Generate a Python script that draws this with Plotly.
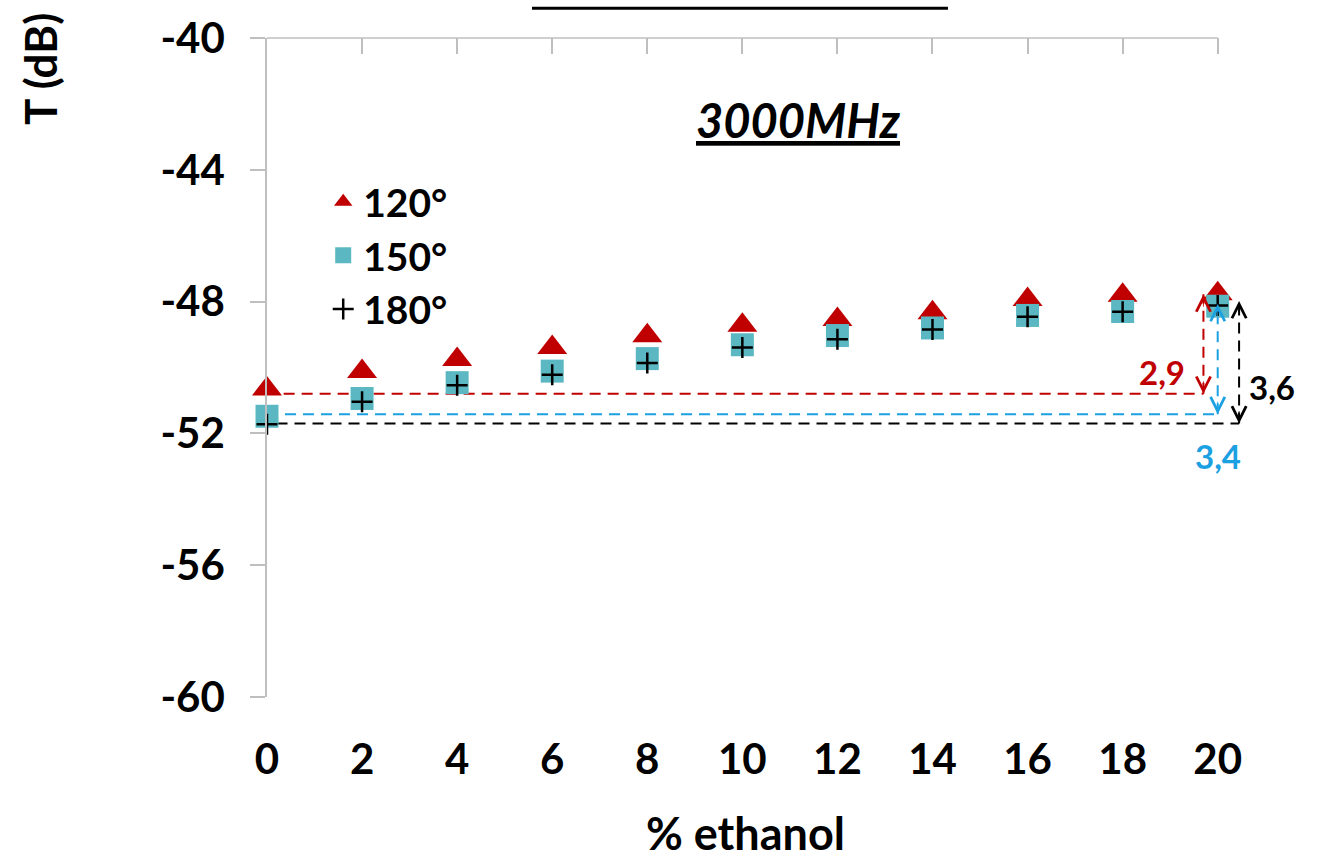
import plotly.graph_objects as go

# ---------------- data ----------------
x_pct = [0, 2, 4, 6, 8, 10, 12, 14, 16, 18, 20]
t120 = [-50.65, -50.12, -49.76, -49.39, -49.04, -48.72, -48.54, -48.34, -47.94, -47.81, -47.76]
t150 = [-51.48, -50.94, -50.46, -50.11, -49.73, -49.31, -49.03, -48.80, -48.42, -48.30, -48.14]
t180 = [-51.72, -51.04, -50.54, -50.22, -49.86, -49.39, -49.14, -48.85, -48.46, -48.31, -48.12]
series_names = ["120°", "150°", "180°"]

y_ticks = [-60, -56, -52, -48, -44, -40]
y_tick_text = ["-60", "-56", "-52", "-48", "-44", "-40"]

# difference annotations (start level, end level, x of arrow, label)
diff_labels = ["2,9", "3,4", "3,6"]
diff_low = [-50.8, -51.42, -51.7]
diff_high = [-47.78, -48.07, -47.98]
diff_x = [19.7, 20.0, 20.45]
diff_start_x = [0.35, 0.0, 0.2]
diff_label_x = [18.82, 20.0, 21.15]
diff_label_y = [-50.14, -52.7, -50.6]

RED = "#C00000"
TEAL = "#5BB8C2"
BLUE = "#1BA1E2"
BLACK = "#000000"
GRAY = "#BFBFBF"
diff_colors = [RED, BLUE, BLACK]

FONT = "Lato"
FS = 41

fig = go.Figure()

# dashed reference lines and vertical arrows
for i in range(3):
    fig.add_trace(go.Scatter(
        x=[diff_start_x[i], diff_x[i], None, diff_x[i], diff_x[i]],
        y=[diff_low[i], diff_low[i], None, diff_low[i], diff_high[i]],
        mode="lines",
        line=dict(color=diff_colors[i], width=2, dash="11px,7px"),
        showlegend=False, hoverinfo="skip",
    ))

fig.add_trace(go.Scatter(
    x=x_pct, y=t120, mode="markers", name=series_names[0],
    marker=dict(symbol="triangle-up", size=26, color=RED),
    cliponaxis=False,
))
fig.add_trace(go.Scatter(
    x=x_pct, y=t150, mode="markers", name=series_names[1],
    marker=dict(symbol="square", size=23, color=TEAL),
    cliponaxis=False,
))
fig.add_trace(go.Scatter(
    x=x_pct, y=t180, mode="markers", name=series_names[2],
    marker=dict(symbol="cross-thin", size=15, color=BLACK,
                line=dict(color=BLACK, width=2.5)),
    cliponaxis=False,
))
# invisible trace to carry the top tick axis
fig.add_trace(go.Scatter(
    x=[x_pct[0]], y=[t120[0]], xaxis="x2", mode="markers",
    marker=dict(opacity=0), showlegend=False, hoverinfo="skip",
))

annotations = []
for i in range(3):
    annotations.append(dict(
        x=diff_x[i], y=diff_high[i], xref="x", yref="y", text="",
        showarrow=True, ax=0, ay=14, arrowhead=5, arrowsize=3.5,
        arrowwidth=0.8, arrowcolor=diff_colors[i]))
    annotations.append(dict(
        x=diff_x[i], y=diff_low[i], xref="x", yref="y", text="",
        showarrow=True, ax=0, ay=-14, arrowhead=5, arrowsize=3.5,
        arrowwidth=0.8, arrowcolor=diff_colors[i]))
    annotations.append(dict(
        x=diff_label_x[i], y=diff_label_y[i], xref="x", yref="y",
        text=diff_labels[i], showarrow=False,
        xanchor="center", yanchor="middle",
        font=dict(family=FONT, size=33, color=diff_colors[i], weight=700)))

annotations.append(dict(
    x=0.5205, y=0.875, xref="paper", yref="paper",
    xanchor="center", yanchor="middle",
    text="<i><u>3000MHz</u></i>", showarrow=False,
    font=dict(family=FONT, size=47, color=BLACK, weight=700)))
annotations.append(dict(
    x=-0.222, y=0.953, xref="paper", yref="paper", text="T (dB)",
    xanchor="center", yanchor="middle",
    textangle=-90, showarrow=False,
    font=dict(family=FONT, size=44, color=BLACK, weight=700)))
annotations.append(dict(
    x=0.468, y=-0.207, xref="paper", yref="paper", text="% ethanol",
    xanchor="center", yanchor="middle",
    showarrow=False,
    font=dict(family=FONT, size=45, color=BLACK, weight=700)))

shapes = [
    dict(type="line", xref="x", yref="paper", x0=x_pct[0], x1=x_pct[-1],
         y0=1, y1=1, line=dict(color=GRAY, width=1.5)),
    dict(type="line", xref="paper", yref="paper", x0=0.2593, x1=0.6663,
         y0=1.0452, y1=1.0452, line=dict(color=BLACK, width=3)),
]

fig.update_layout(
    width=1324, height=865,
    margin=dict(l=267, r=35, t=34, b=168),
    paper_bgcolor="white", plot_bgcolor="white",
    font=dict(family=FONT, size=FS, color=BLACK, weight=700),
    showlegend=True,
    legend=dict(x=0.055, y=0.80, xanchor="left", yanchor="top",
                bgcolor="rgba(0,0,0,0)",
                font=dict(family=FONT, size=39, color=BLACK, weight=700)),
    xaxis=dict(range=[0, 21.5], tickvals=x_pct, ticks="", showline=False,
               showgrid=False, zeroline=False, ticklabelstandoff=34,
               tickfont=dict(family=FONT, size=42, color=BLACK, weight=700)),
    xaxis2=dict(range=[0, 21.5], overlaying="x", side="top", anchor="y",
                tickvals=x_pct, ticks="inside", ticklen=16, tickwidth=1.5,
                tickcolor=GRAY, showticklabels=False, showline=False,
                showgrid=False, zeroline=False),
    yaxis=dict(range=[-60, -40], tickvals=y_ticks, ticktext=y_tick_text,
               ticks="outside",
               ticklen=15, tickwidth=1.5, tickcolor=GRAY, showline=True,
               linecolor=GRAY, linewidth=1.5, showgrid=False, zeroline=False,
               ticklabelstandoff=17,
               tickfont=dict(family=FONT, size=42, color=BLACK, weight=700)),
    annotations=annotations,
    shapes=shapes,
)

fig.write_html("out.html")
